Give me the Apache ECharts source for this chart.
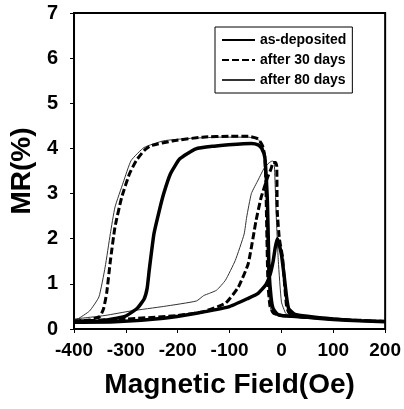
<!DOCTYPE html>
<html><head><meta charset="utf-8">
<script src="https://cdn.jsdelivr.net/npm/echarts@6/dist/echarts.min.js"></script>
<style>html,body{margin:0;padding:0;background:#fff}#c{width:404px;height:409px}</style>
</head><body><div id="c"></div>
<script>
// Tick labels
const xTicks = [-400, -300, -200, -100, 0, 100, 200];
const yTicks = [0, 1, 2, 3, 4, 5, 6, 7];
const seriesNames = ['as-deposited', 'after 30 days', 'after 80 days'];

// as-deposited: loop (increasing field branch, then decreasing field branch)
const depField = [-400,-350,-302,-278,-265,-259,-255,-246,-236,-227,-214,-196,-165,-130,-102,-58,-45,-38,-32,-29,-27,-25,-24,-20,-16,-8,0,50,100,150,200,
                  200,150,100,50,25,14,10,5,0,-5,-8,-12,-16,-22,-30,-45,-64,-102,-164,-227,-321,-400];
const depMR    = [0.15,0.18,0.28,0.46,0.66,0.9,1.3,2.1,2.6,3.0,3.44,3.77,3.99,4.05,4.08,4.11,4.08,4.0,3.8,3.3,2.8,1.8,1.3,0.7,0.45,0.33,0.3,0.26,0.21,0.18,0.16,
                  0.16,0.18,0.22,0.28,0.33,0.45,0.7,1.2,1.65,1.9,2.0,1.8,1.5,1.2,0.98,0.79,0.68,0.49,0.35,0.24,0.16,0.15];

// after 30 days
const d30Field = [-400,-370,-350,-343,-337,-330,-321,-308,-293,-280,-265,-252,-208,-152,-100,-64,-45,-36,-32,-30,-28,-26,-22,-15,0,50,100,150,200,
                  200,100,40,15,10,6,2,-4,-8,-9,-11,-16,-20,-27,-39,-49,-64,-83,-108,-152,-200,-300,-400];
const d30MR    = [0.18,0.2,0.28,0.45,0.8,1.5,2.26,2.92,3.44,3.73,3.95,4.06,4.17,4.25,4.27,4.27,4.21,4.05,3.8,3.2,2.0,1.0,0.5,0.35,0.3,0.26,0.22,0.19,0.17,
                  0.17,0.22,0.28,0.35,0.5,1.0,1.6,2.0,2.6,3.6,3.69,3.69,3.55,3.35,2.92,2.4,1.45,0.93,0.57,0.38,0.3,0.22,0.18];

// after 80 days
const d80Field = [-400,-393,-370,-352,-340,-330,-321,-305,-290,-265,-227,-180,-120,-64,-45,-36,-32,-29,-27,-23,-18,0,50,100,150,200,
                  200,100,40,15,8,0,-6,-10,-14,-18,-24,-33,-45,-58,-67,-72,-89,-108,-125,-139,-150,-164,-227,-290,-340,-400];
const d80MR    = [0.2,0.22,0.4,0.71,1.37,2.11,2.7,3.25,3.73,4.02,4.17,4.22,4.25,4.25,4.2,4.05,3.8,3.0,1.5,0.6,0.35,0.28,0.24,0.2,0.17,0.15,
                  0.15,0.2,0.25,0.3,0.35,0.6,1.5,2.5,3.7,3.72,3.68,3.57,3.3,3.0,2.48,2.1,1.52,1.08,0.86,0.79,0.74,0.62,0.5,0.4,0.3,0.22];

const zip = (a, b) => a.map((v, i) => [v, b[i]]);
const FONT = 'Liberation Sans, Arial, sans-serif';

const chart = echarts.init(document.getElementById('c'), null, {renderer: 'canvas'});
chart.setOption({
  animation: false,
  backgroundColor: '#fff',
  grid: {left: 68, right: 17, top: 13, bottom: 80, show: true, borderColor: '#000', borderWidth: 2},
  legend: {
    orient: 'vertical', left: 215, top: 27,
    data: seriesNames,
    itemWidth: 33, itemHeight: 12, itemGap: 6,
    padding: [6, 6, 6, 6],
    borderColor: '#000', borderWidth: 1,
    itemStyle: {opacity: 0},
    textStyle: {fontFamily: FONT, fontSize: 14, fontWeight: 'bold', color: '#000'}
  },
  xAxis: {
    type: 'value', min: xTicks[0], max: xTicks[xTicks.length - 1], interval: 100,
    name: 'Magnetic Field(Oe)', nameLocation: 'middle', nameGap: 42,
    nameTextStyle: {fontFamily: FONT, fontSize: 28, fontWeight: 'bold', color: '#000'},
    axisLine: {onZero: false, lineStyle: {color: '#000', width: 2}},
    axisTick: {show: true, inside: false, length: 4, lineStyle: {color: '#000'}},
    axisLabel: {fontFamily: FONT, fontSize: 19, fontWeight: 'bold', color: '#000', margin: 12},
    splitLine: {show: false}
  },
  yAxis: {
    type: 'value', min: yTicks[0], max: yTicks[yTicks.length - 1], interval: 1,
    name: 'MR(%)', nameLocation: 'middle', nameGap: 38,
    nameTextStyle: {fontFamily: FONT, fontSize: 28, fontWeight: 'bold', color: '#000'},
    axisLine: {onZero: false, lineStyle: {color: '#000', width: 2}},
    axisTick: {show: true, inside: false, length: 4, lineStyle: {color: '#000'}},
    axisLabel: {fontFamily: FONT, fontSize: 20, fontWeight: 'bold', color: '#000', margin: 16},
    splitLine: {show: false}
  },
  series: [
    {name: seriesNames[0], type: 'line', data: zip(depField, depMR), symbol: 'none', smooth: 0.15,
     lineStyle: {color: '#000', width: 3.5}, itemStyle: {color: '#000'}, z: 3},
    {name: seriesNames[1], type: 'line', data: zip(d30Field, d30MR), symbol: 'none', smooth: 0.15,
     lineStyle: {color: '#000', width: 3, type: [7, 3]}, itemStyle: {color: '#000'}, z: 2},
    {name: seriesNames[2], type: 'line', data: zip(d80Field, d80MR), symbol: 'none', smooth: 0.15,
     lineStyle: {color: '#333', width: 1}, itemStyle: {color: '#333'}, z: 1}
  ]
});
</script></body></html>
